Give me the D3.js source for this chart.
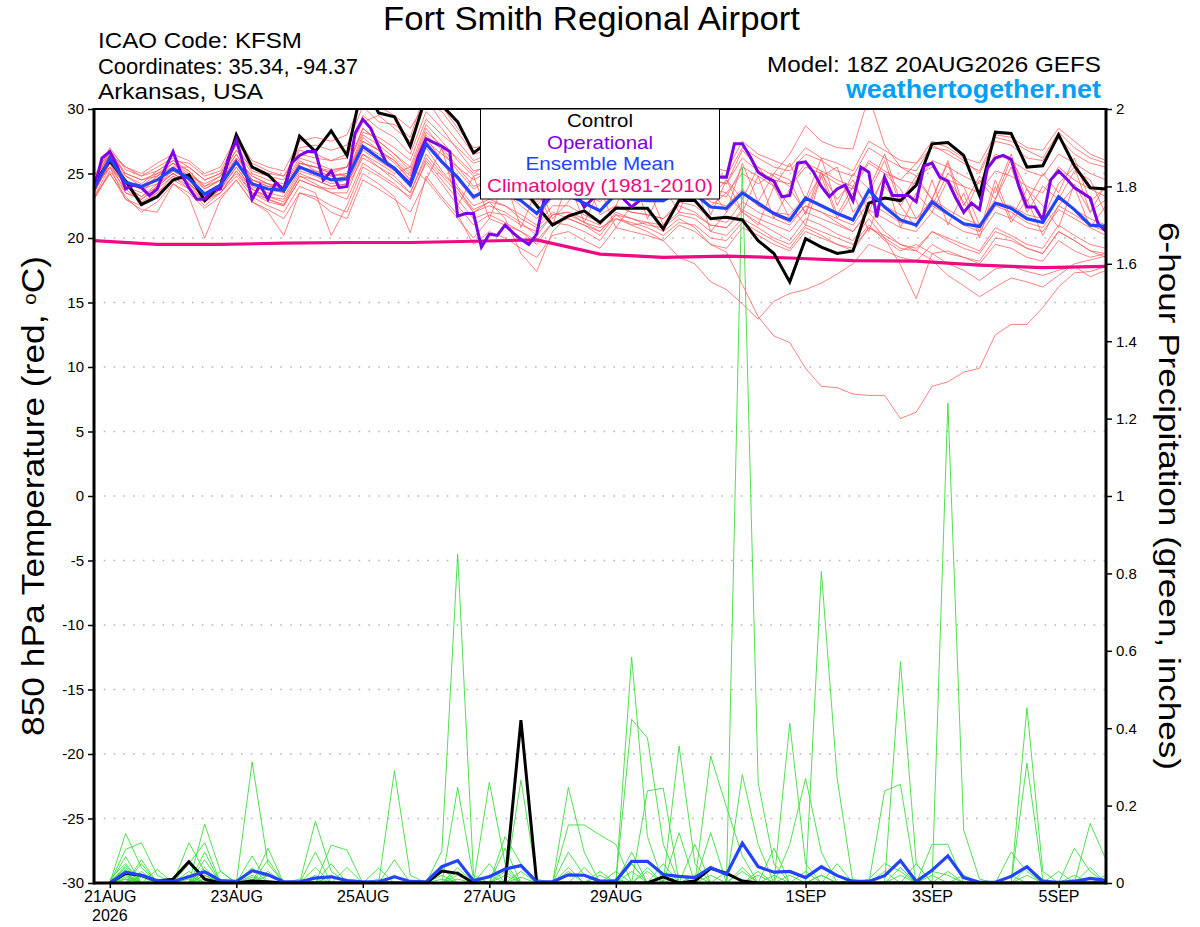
<!DOCTYPE html>
<html>
<head>
<meta charset="utf-8">
<script src="https://cdn.jsdelivr.net/npm/d3@7"></script>
<style>
  body { margin: 0; background: #fff; }
  svg { display: block; font-family: "Liberation Sans", Arial, Helvetica, sans-serif; }
</style>
</head>
<body>
<svg id="chart" width="1200" height="927"></svg>
<script>
// ---- data (read off the GEFS plume for KFSM, 18Z 20AUG2026 run) ----
// 6-hourly 850 hPa temperature, step 0 = 18Z 20AUG
const controlTemp = [24.2,26.0,24.4,22.6,23.2, 24.5,24.9,22.9,24.1,28.0, 25.5,24.9,23.7,27.9,26.7,
  28.3,26.4,32.0,29.7,29.4, 27.1,31.0,30.3,29.0,26.6, 27.5,25.5,24.0,22.5,21.0, 21.7,22.1,21.2,22.3,22.3,
  22.3,20.7,22.9,22.9,21.5, 21.6,21.4,19.8,18.8,16.6, 19.95,19.3,18.8,19.0,22.7, 23.1,22.9,24.1,27.3,27.4,
  26.4,23.3,28.2,28.1,25.5, 25.6,28.0,25.6,23.9,23.8];

const meanTemp = [23.8,26.2,24.3,24.0,24.5, 25.4,24.6,23.4,24.1,25.9, 24.2,23.8,23.7,25.5,25.0,
  24.5,24.6,27.1,26.2,25.4, 24.1,27.3,25.9,24.7,23.2, 23.8,23.4,22.9,21.9,23.4, 23.3,22.7,22.1,23.4,23.0,
  22.9,22.9,23.6,23.4,22.4, 22.3,23.5,22.7,21.9,21.4, 23.1,22.5,21.9,21.4,23.7, 22.4,21.4,21.0,22.8,21.9,
  21.1,20.9,22.7,22.3,21.5, 21.2,23.2,22.2,21.0,20.9];

// operational run is 3-hourly
const operationalTemp = [23.8,26.2,26.7,25.5,23.8,24.1,23.9,23.3,23.8,25.4,
  26.7,25.0,23.9,23.0,23.0,23.7,23.8,26.2,27.6,25.5,
  23.0,24.1,23.0,24.3,23.7,25.8,26.4,26.7,26.7,24.5,
  25.2,23.9,24.0,28.1,29.2,28.5,27.1,25.8,25.4,24.8,
  24.2,26.3,27.7,27.4,27.1,26.7,21.7,21.9,21.9,19.3,
  20.3,20.2,21.0,20.4,19.9,19.5,20.3,23.2,24.0,24.5,
  23.8,23.5,22.4,23.0,23.5,24.0,23.6,23.0,22.4,22.9,
  23.4,24.0,24.5,24.2,23.8,23.6,24.0,24.3,24.5,24.7,
  24.7,27.3,27.3,26.3,25.1,24.7,24.4,23.2,23.3,25.8,
  25.9,25.1,24.0,23.2,23.8,24.1,22.9,25.5,25.1,21.6,
  24.7,23.3,23.3,23.3,22.8,25.6,25.8,24.7,24.4,23.1,
  22.0,22.7,22.2,25.4,26.2,26.4,26.1,24.0,22.4,22.4,
  21.4,24.5,25.2,24.6,23.9,23.5,23.1,21.1,20.5];

// daily climatology, one value per day at 18Z
const climoTemp = [19.8,19.5,19.5,19.6,19.65,19.65,19.75,19.85,18.75,18.5,18.6,18.45,18.25,18.2,17.9,17.7,17.8];

// 20 perturbed members, 6-hourly
const memberTemp = [
  [23.5,25.8,24.0,23.2,24.0, 25.0,24.3,23.0,23.5,25.2, 23.8,23.0,22.6,24.8,24.2, 23.5,23.0,25.8,25.0,24.2, 23.0,26.0,24.5,23.0,21.5, 22.0,21.8,21.0,20.5,21.8, 22.0,21.2,20.8,21.5,21.0, 21.2,20.5,21.5,20.8,19.5, 18.9,16.4,13.9,12.4,11.9, 9.9,8.5,8.4,7.9,7.8, 7.8,6.0,6.5,8.5,8.85, 9.6,9.9,12.5,13.3,13.3, 14.6,16.2,17.3,17.4,17.8],
  [24.0,26.5,25.0,24.5,25.0, 25.8,25.0,24.0,24.5,26.5, 24.5,24.2,23.5,25.8,25.5, 25.0,24.8,27.5,26.8,26.0, 24.5,27.8,26.0,24.0,22.5, 23.0,22.5,21.5,20.8,22.0, 21.5,21.0,20.5,21.8,21.0, 20.5,19.8,18.5,18.0,16.6, 16.0,14.9,13.7,15.1,15.7, 16.0,16.5,17.2,18.0,19.5, 19.0,18.5,18.2,19.5,18.8, 18.5,18.0,19.5,19.2,18.5, 18.2,19.8,19.0,18.5,18.8],
  [23.2,25.5,23.8,22.8,23.5, 24.8,24.0,22.8,23.8,25.0, 23.5,22.8,22.5,24.5,24.0, 23.8,24.0,26.2,25.5,24.8, 23.5,26.5,25.0,23.8,22.0, 22.8,22.5,21.8,21.0,22.5, 22.5,21.8,21.2,22.5,22.0, 21.8,21.5,22.5,22.0,21.0, 20.8,22.0,21.2,20.5,19.8, 21.5,21.0,20.3,19.8,21.5, 20.0,17.9,15.3,18.8,19.0, 18.5,18.2,20.0,19.8,19.2, 18.8,20.5,19.8,19.0,18.8],
  [24.3,26.8,24.8,24.2,25.2, 26.0,25.2,24.0,24.8,26.8, 25.0,24.5,24.2,26.2,25.8, 25.3,25.5,28.5,27.5,26.5, 25.2,28.5,27.0,25.5,24.0, 24.5,24.2,23.5,22.5,24.0, 24.0,23.5,22.8,24.2,23.8, 23.5,23.2,24.0,23.8,22.8, 22.5,23.8,22.5,21.8,21.2, 22.5,22.0,21.2,20.5,22.0, 20.5,19.5,19.0,18.3,17.1, 16.3,15.45,16.2,16.9,16.6, 16.2,17.1,18.0,18.3,18.6],
  [23.0,25.0,23.2,22.0,22.8, 24.2,23.5,22.3,23.2,24.5, 22.8,22.0,20.2,23.5,23.0, 22.0,21.5,24.5,23.8,23.0, 22.0,24.5,23.0,21.5,20.0, 21.5,21.0,20.5,19.8,21.2, 21.5,21.0,20.2,21.8,21.5, 21.0,20.8,21.8,21.5,20.5, 20.2,21.5,20.8,20.0,19.5, 21.0,20.5,20.0,19.5,21.0, 19.8,19.0,19.5,18.8,18.0, 17.5,16.7,17.6,17.8,17.4, 17.1,17.5,17.8,17.0,17.5],
  [24.5,27.0,25.3,24.8,25.5, 26.2,25.5,24.5,25.0,27.2, 25.2,24.8,24.5,26.8,26.5, 26.0,26.2,29.5,28.5,27.8, 26.5,29.8,28.5,26.8,25.2, 25.5,25.0,24.2,23.2,24.8, 24.5,24.0,23.5,25.0,24.5, 24.0,23.8,25.0,24.8,23.8, 23.5,25.0,24.2,25.0,26.5, 28.7,27.5,27.0,26.9,31.0, 27.2,25.5,24.8,25.5,24.5, 24.0,23.5,25.2,24.8,24.0, 23.5,25.5,24.5,23.8,23.2],
  [24.0,26.5,25.5,25.0,25.8, 26.5,26.0,25.0,25.5,27.8, 26.0,25.5,25.2,27.5,27.8, 27.5,28.0,30.8,30.2,29.5, 28.5,30.5,29.8,28.2,26.5, 26.8,26.2,25.5,24.8,25.5, 25.2,24.5,24.0,25.2,24.8, 24.5,24.2,25.5,25.2,24.5, 24.2,26.8,25.5,24.8,24.0, 25.5,25.0,24.2,23.8,25.8, 25.0,24.5,25.8,27.0,26.8, 26.0,25.0,27.5,27.2,26.2, 26.0,27.8,26.5,25.8,25.5],
  [23.5,26.0,24.5,23.8,24.2, 25.0,24.2,23.2,24.0,25.8, 24.0,23.5,23.2,25.2,24.8, 24.2,24.5,27.2,26.5,25.5, 24.2,27.5,26.5,25.5,24.5, 25.2,24.8,23.8,22.8,24.2, 24.2,23.5,23.0,24.5,24.0, 23.8,23.5,24.5,24.2,23.2, 24.5,23.0,25.5,24.0,21.5, 22.8,25.0,23.0,24.5,22.0, 25.0,23.8,21.5,22.5,25.0, 24.0,21.0,23.0,25.5,22.0, 24.0,23.0,25.2,24.5,21.8],
  [23.8,25.5,23.0,22.5,23.5, 24.5,23.8,22.5,23.5,24.8, 23.2,22.5,22.0,24.0,23.5, 20.2,22.5,25.5,24.8,24.0, 23.2,25.8,24.2,22.5,21.0, 21.8,21.2,20.5,19.5,21.2, 21.0,20.5,19.8,21.5,21.2, 20.8,20.2,21.2,21.0,20.0, 19.8,21.2,20.5,19.8,19.2, 20.8,20.2,19.5,19.2,20.8, 20.2,19.5,19.2,20.5,20.0, 19.5,19.0,20.8,20.2,19.5, 19.2,21.0,20.2,19.5,19.2],
  [24.2,26.2,24.0,23.5,24.8, 25.8,25.2,23.8,24.5,26.2, 24.8,24.2,24.0,26.0,25.2, 24.8,25.0,28.0,27.2,26.2, 25.0,28.2,27.2,26.2,25.0, 25.8,25.2,24.5,23.5,24.8, 24.8,24.2,23.5,25.0,24.5, 24.2,24.0,25.2,24.8,23.8, 22.0,25.8,22.8,25.0,24.5, 21.8,24.8,25.5,22.0,23.5, 26.0,22.5,24.5,23.0,25.8, 21.8,24.5,23.0,26.2,23.8, 21.5,24.2,25.5,22.0,24.2],
  [23.0,25.2,23.5,23.0,23.8, 24.8,23.8,22.8,23.8,25.5, 23.8,23.2,22.8,24.8,24.5, 24.0,24.2,26.5,25.8,25.0, 25.5,24.5,27.0,22.5,24.8, 21.5,24.5,20.8,23.8,21.0, 24.5,21.2,23.8,20.8,22.5, 24.0,21.0,22.8,24.5,20.5, 22.0,23.5,22.5,22.0,21.8, 23.2,22.5,22.0,21.5,23.2, 22.5,21.8,21.5,23.0,22.2, 21.5,21.0,22.8,22.5,21.8, 21.5,23.0,22.2,21.5,21.0],
  [24.0,26.8,25.0,24.5,24.8, 25.5,24.8,24.2,24.8,26.5, 24.5,24.0,23.8,25.8,25.5, 25.2,25.5,28.2,27.8,27.0, 26.0,29.2,28.0,27.0,25.8, 26.2,25.5,24.8,24.0,25.2, 25.0,24.5,24.0,25.5,25.0, 24.8,24.5,25.8,25.5,24.5, 24.2,26.2,25.2,24.5,24.2, 25.8,25.2,24.5,24.0,26.0, 25.2,24.5,24.2,26.0,25.5, 24.8,24.2,26.5,26.0,25.2, 24.8,26.5,25.8,25.0,24.5],
  [23.5,25.8,24.2,23.8,24.5, 25.2,24.5,23.5,24.2,26.0, 24.2,23.8,23.5,25.5,25.0, 24.5,24.8,27.8,26.8,25.8, 24.5,27.0,25.2,23.8,22.2, 22.8,21.5,18.8,17.4,20.5, 21.8,21.2,20.5,22.0,21.5, 21.2,21.0,22.0,21.8,21.0, 20.8,22.2,21.5,21.0,20.5, 22.0,21.5,21.0,20.5,22.2, 21.5,20.8,20.5,22.0,21.2, 20.5,20.2,22.0,21.5,20.8, 20.5,22.2,21.5,20.8,20.2],
  [24.2,26.0,24.8,24.0,24.5, 25.2,24.8,23.8,24.5,26.0, 24.5,24.0,23.8,25.5,25.2, 24.8,25.0,27.5,26.8,26.0, 24.8,28.0,26.8,25.2,23.8, 24.5,24.0,23.2,24.5,21.5, 22.8,24.8,21.8,22.5,25.0, 21.5,24.0,22.0,25.2,21.8, 24.5,22.0,24.8,21.5,23.8, 22.0,25.2,21.8,24.0,22.5, 24.8,20.8,23.5,22.0,24.5, 22.8,20.5,24.5,21.5,23.8, 22.5,20.8,24.2,22.0,23.0],
  [23.8,25.8,23.5,23.0,24.0, 25.0,24.2,22.8,23.5,25.2, 23.5,23.0,22.5,24.5,24.0, 23.5,23.5,26.5,25.5,24.5, 23.5,26.2,24.8,23.5,22.0, 22.5,22.0,21.2,20.2,21.8, 22.0,21.5,21.0,22.5,22.0, 21.8,21.5,22.8,22.5,21.5, 21.2,22.8,22.0,21.5,21.0, 22.5,22.0,21.5,21.0,22.8, 22.0,21.2,21.0,22.5,21.8, 21.0,20.5,22.5,22.0,21.2, 20.8,22.5,21.8,21.0,20.5],
  [24.5,26.5,24.5,23.8,24.8, 25.8,24.8,23.5,24.2,26.2, 24.8,24.2,23.8,25.8,25.5, 25.0,25.5,28.5,27.5,26.5, 25.5,28.8,27.5,26.0,24.8, 25.2,24.8,24.0,23.0,24.5, 24.5,23.8,23.2,24.8,24.2, 24.0,23.8,25.0,24.5,23.5, 23.2,25.5,24.8,24.0,25.8, 23.0,26.2,22.5,25.0,23.8, 26.5,22.8,24.8,23.0,26.0, 22.5,24.8,23.5,26.5,22.8, 25.0,23.5,26.2,22.8,24.0],
  [23.2,25.0,23.0,22.2,22.0, 24.2,23.2,20.0,23.0,24.5, 22.8,22.2,21.5,23.5,23.2, 22.5,22.0,25.0,24.2,23.2, 20.4,24.8,23.2,21.8,19.5, 20.5,20.0,19.2,18.5,20.2, 20.5,19.8,19.2,20.8,20.5, 20.2,19.8,21.0,20.5,19.5, 19.2,20.8,20.2,19.5,19.0, 20.5,20.0,19.5,19.0,20.8, 20.0,19.2,19.0,20.5,19.8, 19.2,18.8,20.5,20.0,19.2, 18.8,20.5,19.8,19.0,18.5],
  [24.0,25.5,24.2,24.0,25.0, 25.5,25.5,24.5,25.0,26.8, 25.5,25.0,24.8,26.5,26.2, 26.0,26.5,29.0,29.5,28.5, 27.5,30.8,29.0,27.5,26.0, 26.5,26.0,25.0,24.2,25.5, 25.2,24.8,24.2,25.8,25.2, 25.0,24.8,26.0,25.8,25.0, 24.8,27.0,26.2,25.5,25.2, 26.5,26.0,25.2,24.8,27.0, 26.2,25.5,25.2,27.2,26.5, 25.8,25.2,27.8,27.5,26.8, 26.2,28.2,27.0,26.2,25.8],
  [23.5,26.0,24.0,23.2,24.2, 25.2,24.5,23.0,23.8,25.5, 23.8,23.2,23.0,25.0,24.5, 24.0,24.2,26.8,26.0,25.2, 24.0,27.2,26.0,24.5,23.0, 23.8,23.5,22.5,21.5,23.2, 23.2,22.8,22.2,23.8,23.2, 23.0,22.8,23.8,23.5,22.5, 23.5,22.0,21.0,24.0,22.5, 21.0,24.8,21.5,23.5,20.5, 24.0,22.5,20.8,24.5,21.0, 23.5,20.0,24.0,21.2,23.0, 20.2,22.5,24.0,20.8,22.5],
  [24.8,26.8,25.5,24.8,25.2, 26.0,25.8,24.8,25.2,27.5, 25.8,25.2,24.8,27.0,27.2, 26.8,27.2,30.2,29.0,28.8, 27.8,31.5,30.2,28.5,27.0, 27.2,26.5,25.8,25.0,26.0, 25.8,25.2,24.8,26.2,25.8, 25.5,25.2,26.5,26.2,25.5, 25.2,27.5,26.5,26.0,25.5, 27.0,26.2,25.8,25.2,27.5, 26.8,26.0,25.8,27.5,27.0, 26.2,25.8,28.0,27.8,27.0, 26.8,28.5,27.5,26.5,26.0]
];

// 6-hour precipitation (inches), step 1 = 00Z 21AUG ... step 64 = 18Z 5SEP
const controlPcp = [0,0.025,0.02,0.005,0.01,0.055,0.01,0,0,0.005, 0.003,0,0,0,0,0,0,0,0,0,
  0,0.031,0.025,0,0,0,0.421,0,0,0, 0,0,0,0,0,0.016,0,0.005,0.038,0.025,
  0.005,0,0,0,0,0,0,0,0,0, 0,0,0,0,0,0,0,0,0,0, 0,0,0,0];
const meanPcp = [0,0.028,0.02,0.006,0.004,0.016,0.029,0.006,0.004,0.032, 0.021,0.003,0.003,0.013,0.016,0.006,0.003,0.003,0.016,0.004,
  0.003,0.042,0.058,0.006,0.016,0.036,0.045,0.003,0.003,0.021, 0.02,0.005,0.005,0.056,0.056,0.022,0.017,0.014,0.04,0.022,
  0.103,0.042,0.028,0.03,0.014,0.042,0.019,0.004,0.004,0.019, 0.058,0.004,0.033,0.07,0.014,0.002,0.002,0.017,0.042,0.004,
  0.002,0.004,0.012,0.007];
// members: [step, inches] for every step with rain, all other steps are 0
const memberPcpEvents = [
  [[2,0.128],[3,0.04],[7,0.02],[23,0.01],[41,1.85],[42,0.26],[43,0.05],[51,0.02]],
  [[2,0.087],[3,0.104],[4,0.02],[6,0.104],[7,0.03],[22,0.083],[23,0.85],[24,0.02],[34,0.05],[46,0.02]],
  [[2,0.068],[7,0.152],[8,0.03],[10,0.02],[25,0.26],[26,0.05],[46,0.805],[47,0.27],[50,0.03]],
  [[1,0.01],[2,0.05],[10,0.313],[11,0.05],[14,0.02],[30,0.247],[31,0.08],[54,1.24],[55,0.137],[56,0.01]],
  [[2,0.04],[6,0.05],[7,0.104],[14,0.16],[15,0.03],[27,0.266],[28,0.01],[51,0.572],[52,0.05]],
  [[2,0.03],[3,0.02],[7,0.08],[11,0.09],[19,0.29],[20,0.02],[34,0.584],[35,0.12],[59,0.453],[60,0.03]],
  [[2,0.02],[6,0.03],[15,0.098],[16,0.085],[26,0.12],[27,0.05],[34,0.423],[35,0.375],[36,0.1],[44,0.413],[45,0.05]],
  [[3,0.03],[7,0.06],[10,0.07],[23,0.247],[24,0.01],[37,0.354],[38,0.05],[59,0.31],[60,0.01]],
  [[2,0.02],[11,0.06],[14,0.08],[18,0.038],[30,0.15],[31,0.15],[32,0.124],[33,0.1],[39,0.328],[40,0.196],[41,0.07]],
  [[4,0.035],[8,0.03],[22,0.04],[26,0.09],[35,0.238],[36,0.245],[41,0.28],[42,0.1],[63,0.154],[64,0.06]],
  [[2,0.01],[7,0.04],[15,0.05],[19,0.06],[25,0.05],[30,0.08],[31,0.02],[37,0.13],[50,0.238],[51,0.255]],
  [[3,0.02],[10,0.04],[16,0.04],[22,0.02],[27,0.03],[32,0.03],[34,0.08],[44,0.1],[45,0.27],[46,0.08],[53,0.1],[54,0.1]],
  [[2,0.01],[6,0.02],[11,0.03],[26,0.03],[33,0.03],[36,0.05],[39,0.13],[43,0.09],[55,0.02],[58,0.08],[59,0.03]],
  [[1,0.01],[3,0.05],[8,0.01],[14,0.04],[23,0.03],[34,0.05],[38,0.1],[42,0.03],[47,0.05],[62,0.09],[63,0.03]],
  [[2,0.035],[7,0.02],[10,0.015],[18,0.01],[30,0.04],[35,0.04],[41,0.04],[49,0.01],[50,0.05],[51,0.03],[62,0.02],[64,0.02]],
  [[3,0.015],[6,0.01],[11,0.02],[15,0.02],[22,0.01],[27,0.015],[36,0.02],[40,0.03],[43,0.02],[53,0.03],[54,0.02],[61,0.03],[63,0.04]],
  [[2,0.045],[4,0.01],[13,0.01],[23,0.02],[26,0.02],[32,0.02],[37,0.02],[44,0.02],[52,0.05],[58,0.02]],
  [[2,0.025],[7,0.03],[14,0.01],[25,0.02],[30,0.03],[34,0.03],[39,0.02],[45,0.03],[51,0.04],[59,0.02],[63,0.015]],
  [[3,0.06],[7,0.01],[19,0.02],[26,0.04],[33,0.01],[38,0.02],[41,0.03],[46,0.02],[54,0.03],[62,0.01]],
  [[2,0.015],[6,0.02],[10,0.01],[23,0.04],[31,0.04],[35,0.03],[42,0.02],[48,0.01],[53,0.02],[59,0.04],[64,0.01]]
];

const tempTicks = [-30,-25,-20,-15,-10,-5,0,5,10,15,20,25,30];
const pcpTicks = [0,0.2,0.4,0.6,0.8,1,1.2,1.4,1.6,1.8,2];
const dateTicks = ['2026-08-21','2026-08-23','2026-08-25','2026-08-27','2026-08-29','2026-09-01','2026-09-03','2026-09-05'];
const dateLabels = ['21AUG','23AUG','25AUG','27AUG','29AUG','1SEP','3SEP','5SEP'];
const legendItems = ['Control','Operational','Ensemble Mean','Climatology (1981-2010)'];

// ---- chart ----
const svg = d3.select('#chart');
const plot = { left: 94, right: 1106, top: 109, bottom: 883 };
const HOUR = 3600e3;
const t0 = Date.UTC(2026, 7, 20, 18);

const colors = {
  member: '#ff5a5a', rain: '#3ddc3d', control: '#000', oper: '#7f00e6',
  mean: '#2244ff', climo: '#ee0a80', url: '#05a0f5'
};

const x = d3.scaleUtc().domain([new Date(t0), new Date(t0 + 384 * HOUR)]).range([plot.left, plot.right]);
const yT = d3.scaleLinear().domain([-30, 30]).range([plot.bottom, plot.top]);
const yP = d3.scaleLinear().domain([0, 2]).range([plot.bottom, plot.top]);

const every = hours => (v, i) => [new Date(t0 + i * hours * HOUR), v];
const pcpSeries = arr => arr.map((v, k) => [new Date(t0 + (k + 1) * 6 * HOUR), v]);

const tLine = d3.line().x(d => x(d[0])).y(d => yT(d[1]));
const pLine = d3.line().x(d => x(d[0])).y(d => yP(d[1]));

svg.append('defs').append('clipPath').attr('id', 'plotclip')
  .append('rect')
  .attr('x', plot.left).attr('y', plot.top)
  .attr('width', plot.right - plot.left).attr('height', plot.bottom - plot.top);

// dotted grid at the temperature ticks
svg.append('g').selectAll('line')
  .data(tempTicks.filter(t => t > -30 && t < 30))
  .enter().append('line')
  .attr('x1', plot.left).attr('x2', plot.right)
  .attr('y1', t => yT(t)).attr('y2', t => yT(t))
  .attr('stroke', '#b4b4b4').attr('stroke-width', 1.6)
  .attr('stroke-dasharray', '1.6,8.2');

const lines = svg.append('g').attr('clip-path', 'url(#plotclip)');

lines.selectAll('.member')
  .data(memberTemp)
  .enter().append('path')
  .attr('class', 'member')
  .attr('d', m => tLine(m.map(every(6))))
  .attr('fill', 'none').attr('stroke', colors.member)
  .attr('stroke-width', 0.9).attr('stroke-opacity', 0.85);

const memberPcp = memberPcpEvents.map(events => {
  const full = new Array(64).fill(0);
  events.forEach(([step, v]) => { full[step - 1] = v; });
  return full;
});

lines.selectAll('.rain')
  .data(memberPcp)
  .enter().append('path')
  .attr('class', 'rain')
  .attr('d', p => pLine(pcpSeries(p)))
  .attr('fill', 'none').attr('stroke', colors.rain)
  .attr('stroke-width', 0.9);

lines.append('path')
  .attr('d', tLine(climoTemp.map(every(24))))
  .attr('fill', 'none').attr('stroke', colors.climo).attr('stroke-width', 3.2);

lines.append('path')
  .attr('d', pLine(pcpSeries(controlPcp)))
  .attr('fill', 'none').attr('stroke', colors.control).attr('stroke-width', 3);

lines.append('path')
  .attr('d', pLine(pcpSeries(meanPcp)))
  .attr('fill', 'none').attr('stroke', colors.mean).attr('stroke-width', 3.2);

lines.append('path')
  .attr('d', tLine(controlTemp.map(every(6))))
  .attr('fill', 'none').attr('stroke', colors.control).attr('stroke-width', 3);

lines.append('path')
  .attr('d', tLine(operationalTemp.map(every(3))))
  .attr('fill', 'none').attr('stroke', colors.oper).attr('stroke-width', 3);

lines.append('path')
  .attr('d', tLine(meanTemp.map(every(6))))
  .attr('fill', 'none').attr('stroke', colors.mean).attr('stroke-width', 3.2);

// axes
const leftAxis = svg.append('g')
  .attr('transform', `translate(${plot.left},0)`)
  .call(d3.axisLeft(yT).tickValues(tempTicks).tickFormat(d => String(d)).tickSize(6).tickPadding(4));

const rightAxis = svg.append('g')
  .attr('transform', `translate(${plot.right},0)`)
  .call(d3.axisRight(yP).tickValues(pcpTicks).tickFormat(d => String(d)).tickSize(6).tickPadding(4));

const bottomAxis = svg.append('g')
  .attr('transform', `translate(0,${plot.bottom})`)
  .call(d3.axisBottom(x).tickValues(dateTicks.map(d => new Date(d + 'T00:00:00Z')))
    .tickFormat((d, i) => dateLabels[i]).tickSize(5).tickPadding(3));

[leftAxis, rightAxis, bottomAxis].forEach(a => {
  a.select('.domain').remove();
  a.selectAll('.tick line').attr('stroke', '#000').attr('stroke-width', 1.5);
  a.selectAll('.tick text').attr('fill', '#000').style('font-size', '15px')
    .style('font-family', '"Liberation Sans", Arial, sans-serif');
});
bottomAxis.selectAll('.tick text').style('font-size', '16px');

svg.append('text')
  .attr('x', x(new Date('2026-08-21T00:00:00Z'))).attr('y', 921)
  .attr('text-anchor', 'middle').style('font-size', '16px')
  .text('2026');

// frame
const frame = svg.append('g').attr('stroke', '#000').attr('fill', 'none');
frame.append('line').attr('x1', plot.left).attr('x2', plot.right).attr('y1', plot.top).attr('y2', plot.top).attr('stroke-width', 2);
frame.append('line').attr('x1', plot.left).attr('x2', plot.left).attr('y1', plot.top - 1).attr('y2', plot.bottom + 1.5).attr('stroke-width', 3);
frame.append('line').attr('x1', plot.right).attr('x2', plot.right).attr('y1', plot.top - 1).attr('y2', plot.bottom + 1.5).attr('stroke-width', 3);
frame.append('line').attr('x1', plot.left).attr('x2', plot.right).attr('y1', plot.bottom).attr('y2', plot.bottom).attr('stroke-width', 3);

// legend
const legend = svg.append('g');
legend.append('rect')
  .attr('x', 480.5).attr('y', plot.top).attr('width', 239).attr('height', 90)
  .attr('fill', '#fff').attr('stroke', '#000').attr('stroke-width', 1);
const legendColors = [colors.control, colors.oper, colors.mean, colors.climo];
const legendWidths = [66, 106, 149, 226];
legend.selectAll('text')
  .data(legendItems)
  .enter().append('text')
  .attr('x', 600).attr('y', (d, i) => 127 + i * 21.7)
  .attr('text-anchor', 'middle')
  .attr('fill', (d, i) => legendColors[i])
  .attr('textLength', (d, i) => legendWidths[i])
  .attr('lengthAdjust', 'spacingAndGlyphs')
  .style('font-size', '19px')
  .text(d => d);

// titles
svg.append('text').attr('x', 591.5).attr('y', 30).attr('text-anchor', 'middle')
  .attr('textLength', 417).attr('lengthAdjust', 'spacingAndGlyphs')
  .style('font-size', '33px').text('Fort Smith Regional Airport');

const info = ['ICAO Code: KFSM', 'Coordinates: 35.34, -94.37', 'Arkansas, USA'];
const infoWidths = [204, 260, 165];
svg.selectAll('.info').data(info).enter().append('text')
  .attr('class', 'info')
  .attr('x', 98).attr('y', (d, i) => 48 + i * 25.7)
  .attr('textLength', (d, i) => infoWidths[i]).attr('lengthAdjust', 'spacingAndGlyphs')
  .style('font-size', '22px').text(d => d);

svg.append('text').attr('x', 767).attr('y', 72)
  .attr('textLength', 334).attr('lengthAdjust', 'spacingAndGlyphs')
  .style('font-size', '22px').text('Model: 18Z 20AUG2026 GEFS');
svg.append('text').attr('x', 846).attr('y', 98)
  .attr('textLength', 255).attr('lengthAdjust', 'spacingAndGlyphs')
  .style('font-size', '25px').style('font-weight', 'bold').attr('fill', colors.url)
  .text('weathertogether.net');

const yLabel = svg.append('text')
  .attr('transform', `translate(44,${(plot.top + plot.bottom) / 2}) rotate(-90)`)
  .attr('text-anchor', 'middle')
  .attr('textLength', 480).attr('lengthAdjust', 'spacingAndGlyphs')
  .style('font-size', '31px');
yLabel.append('tspan').text('850 hPa Temperature (red, ');
yLabel.append('tspan').attr('baseline-shift', '45%').style('font-size', '18px').text('o');
yLabel.append('tspan').text('C)');

svg.append('text')
  .attr('transform', `translate(1159,${(plot.top + plot.bottom) / 2}) rotate(90)`)
  .attr('text-anchor', 'middle')
  .attr('textLength', 548).attr('lengthAdjust', 'spacingAndGlyphs')
  .style('font-size', '30px')
  .text('6-hour Precipitation (green, inches)');
</script>
</body>
</html>
